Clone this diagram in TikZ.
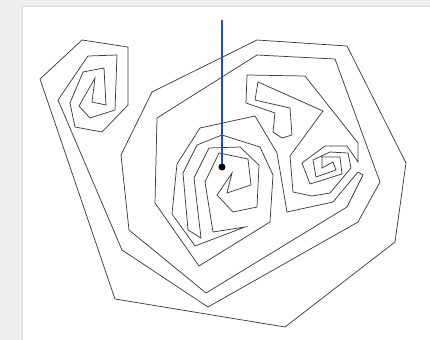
\documentclass[tikz,border=0pt]{standalone}
\definecolor{panelgray}{RGB}{238,238,238}
\definecolor{curvegray}{RGB}{60,60,60}
\definecolor{rayblue}{RGB}{24,84,180}
\begin{document}
\begin{tikzpicture}[x=0.75pt,y=-0.75pt,>=latex]
			\tikzset{
				curve/.style={draw=curvegray, line width=0.55pt, line join=miter},
				ray/.style={draw=rayblue, line width=1.1pt},
				probe/.style={circle, fill=black, inner sep=0, minimum size=5pt},
			}
			% page and panel
			\fill[panelgray] (0,0) rectangle (430,340);
			\foreach \d/\s in {3/5,2/9,1/14}
				{
					\fill[black!\s] ({23-\d},{7-\d}) rectangle (430,340);
				}
			\fill[white] (23,7) rectangle (430,340);
			% main curve: outer rings, small spiral and the centre spiral
			\draw[curve] (115,299) -- (40,79) -- (82,40) -- (128,47) -- (128,105) -- (102,132)
				-- (75,127) -- (70,103) -- (83,72) -- (104,68) -- (106,105) -- (92,102) -- (95,78)
				-- (79,106) -- (90,118) -- (115,110) -- (117,55) -- (88,56) -- (58,100)
				-- (122,250) -- (208,307) -- (358,222) -- (380,182) -- (335,59) -- (257,55)
				-- (157,118) -- (155,203) -- (199,266) -- (270,222) -- (273,175) -- (260,147)
				-- (222,135) -- (197,145) -- (183,173) -- (188,230) -- (201,238) -- (194,178)
				-- (209,148) -- (240,147) -- (259,165) -- (257,207) -- (233,212) -- (217,195)
				-- (232,173) -- (227,193) -- (251,185) -- (248,159) -- (219,153) -- (205,182)
				-- (213,232) -- (245,227) -- (195,246) -- (172,214) -- (177,164) -- (200,128)
				-- (255,116) -- (277,153) -- (287,212) -- (333,202) -- (358,172) -- (363,175)
				-- (347,207) -- (206,293) -- (129,230) -- (121,155) -- (152,92) -- (257,40)
				-- (347,46) -- (406,163) -- (395,242) -- (285,327) -- cycle;
			% hook and the right spiral
			\draw[curve] (358,162) -- (358,143) -- (305,76) -- (247,75) -- (246,103) -- (275,113)
				-- (273,132) -- (282,138) -- (292,135) -- (290,108) -- (255,100) -- (258,82)
				-- (323,111) -- (290,156) -- (293,192) -- (312,196) -- (330,193) -- (351,168)
				-- (348,153) -- (330,152) -- (313,160) -- (316,177) -- (336,170) -- (333,162)
				-- (322,168) -- (322,157) -- (340,157) -- (342,174) -- (310,184) -- (302,163)
				-- (325,146) -- (347,146) -- cycle;
			% ray to the test point
			\coordinate (raytop) at (222,20);
			\node[probe] (probe) at (222,167) {};
			\draw[ray] (raytop) -- (probe.center);
			\node[probe] at (probe) {};
		\end{tikzpicture}
\end{document}
